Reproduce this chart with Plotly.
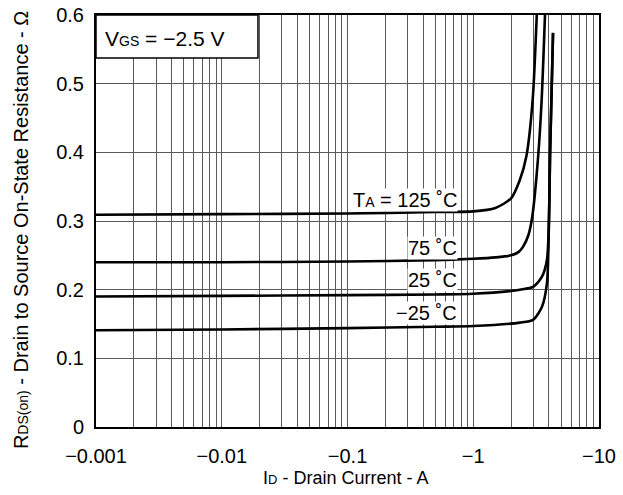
import plotly.graph_objects as go

# Drain current (A) and on-state resistance (ohm) per ambient temperature
id_125 = [-0.001, -0.01, -0.1, -0.5, -1.0, -1.5, -2.0, -2.35, -2.65, -2.97, -3.2]
r_125 = [0.309, 0.310, 0.311, 0.313, 0.314, 0.319, 0.333, 0.360, 0.395, 0.477, 0.600]

id_75 = [-0.001, -0.01, -0.1, -0.5, -1.0, -1.5, -2.0, -2.3, -2.5, -2.75, -2.95, -3.27, -3.5, -3.72]
r_75 = [0.240, 0.240, 0.241, 0.243, 0.245, 0.247, 0.250, 0.255, 0.263, 0.280, 0.307, 0.390, 0.477, 0.600]

id_25 = [-0.001, -0.01, -0.1, -0.5, -1.0, -2.0, -2.35, -2.99, -3.52, -3.86, -4.03, -4.08, -4.31]
r_25 = [0.190, 0.191, 0.192, 0.193, 0.194, 0.198, 0.200, 0.204, 0.219, 0.244, 0.331, 0.396, 0.574]

id_m25 = [-0.001, -0.01, -0.1, -0.5, -1.0, -2.35, -2.99, -3.52, -3.86, -3.96, -4.03, -4.08, -4.31]
r_m25 = [0.141, 0.142, 0.144, 0.146, 0.147, 0.152, 0.156, 0.175, 0.210, 0.260, 0.331, 0.396, 0.574]

x_decades = [0.001, 0.01, 0.1, 1, 10]
x_decade_labels = ["\u22120.001", "\u22120.01", "\u22120.1", "\u22121", "\u221210"]
y_ticks = [0, 0.1, 0.2, 0.3, 0.4, 0.5, 0.6]
y_tick_labels = ["0", "0.1", "0.2", "0.3", "0.4", "0.5", "0.6"]

labels = ["T<span style='font-size:14px'>A</span> = 125 \u02daC", "75 \u02daC", "25 \u02daC", "\u221225 \u02daC"]
label_y = [0.331, 0.260, 0.2146, 0.1664]

x_title = "I<span style='font-size:13px'>D</span> - Drain Current - A"
y_title = "R<span style='font-size:14px'>DS(on)</span> - Drain to Source On-State Resistance - \u03a9"

FONT = "Liberation Sans, Arial, Helvetica, sans-serif"
GRID = "#5a5a5a"

# all grid positions on the log axis (1..9 per decade)
x_grid = []
x_grid_text = []
for d, lab in zip(x_decades[:-1], x_decade_labels[:-1]):
    for k in range(1, 10):
        x_grid.append(d * k)
        x_grid_text.append(lab if k == 1 else "")
x_grid.append(x_decades[-1])
x_grid_text.append(x_decade_labels[-1])

fig = go.Figure()
for ids, rs in [(id_125, r_125), (id_75, r_75), (id_25, r_25), (id_m25, r_m25)]:
    fig.add_trace(go.Scatter(
        x=[-v for v in ids], y=rs, mode="lines",
        line=dict(color="black", width=2.6, shape="spline", smoothing=0.7),
        showlegend=False, hoverinfo="skip",
    ))

for txt, yv in zip(labels, label_y):
    fig.add_annotation(
        x=0.7197, xref="x domain", y=yv, yref="y",
        text=txt, showarrow=False, xanchor="right", yanchor="middle",
        font=dict(family=FONT, size=20, color="black"),
        bgcolor="white", borderpad=0,
    )

# V_GS box
fig.add_shape(type="rect", xref="x domain", yref="y domain",
              x0=0, x1=0.322, y0=0.8956, y1=1.0,
              line=dict(color="black", width=1.5), fillcolor="white", layer="above")
fig.add_annotation(
    x=0.014, xref="x domain", y=0.944, yref="y domain",
    text="V<span style='font-size:14px'>GS</span> = \u22122.5 V", showarrow=False,
    xanchor="left", yanchor="middle",
    font=dict(family=FONT, size=21, color="black"),
)

# axis titles
fig.add_annotation(
    x=0.497, xref="x domain", y=-0.1238, yref="y domain",
    text=x_title, showarrow=False, xanchor="center", yanchor="middle",
    font=dict(family=FONT, size=18, color="black"),
)
fig.add_annotation(
    x=-0.149, xref="x domain", y=0.478, yref="y domain",
    text=y_title, showarrow=False, xanchor="center", yanchor="middle",
    textangle=-90, font=dict(family=FONT, size=20, color="black"),
)

fig.update_xaxes(
    type="log", range=[-3, 1],
    tickvals=x_grid, ticktext=x_grid_text,
    showgrid=True, gridcolor=GRID, gridwidth=1,
    showline=True, linecolor="black", linewidth=2, mirror=True,
    ticks="", zeroline=False, ticklabelstandoff=10, automargin=False,
    tickfont=dict(family=FONT, size=20, color="black"),
)
fig.update_yaxes(
    range=[0, 0.6], tickvals=y_ticks, ticktext=y_tick_labels,
    showgrid=True, gridcolor=GRID, gridwidth=1,
    showline=True, linecolor="black", linewidth=2, mirror=True,
    ticks="", zeroline=False, ticklabelstandoff=6, automargin=False,
    tickfont=dict(family=FONT, size=20, color="black"),
)

fig.update_layout(
    width=623, height=495,
    margin=dict(l=96, r=24, t=15, b=68),
    paper_bgcolor="white", plot_bgcolor="white",
    font=dict(family=FONT, color="black"),
)

fig.write_html(
    "out.html",
    config={"displayModeBar": False, "staticPlot": True},
    post_script="document.body.style.margin='0';document.body.style.overflow='hidden';",
)
